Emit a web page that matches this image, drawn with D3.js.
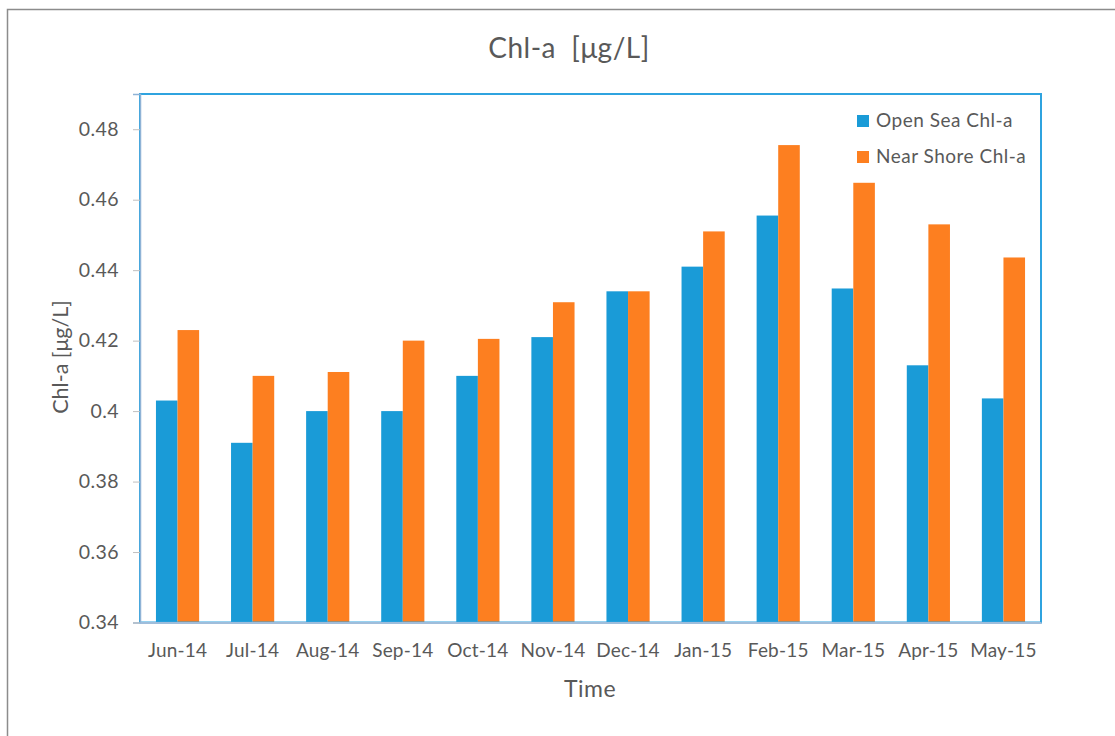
<!DOCTYPE html>
<html>
<head>
<meta charset="utf-8">
<script src="https://cdn.jsdelivr.net/npm/d3@7"></script>
<style>
  html, body { margin: 0; padding: 0; background: #fff; }
  svg { display: block; font-family: Lato, "Open Sans", sans-serif; }
</style>
</head>
<body>
<svg id="chart" width="1115" height="736"></svg>
<script>
const categories = ["Jun-14","Jul-14","Aug-14","Sep-14","Oct-14","Nov-14","Dec-14","Jan-15","Feb-15","Mar-15","Apr-15","May-15"];
const openSea = [0.403, 0.391, 0.400, 0.400, 0.410, 0.421, 0.434, 0.441, 0.4555, 0.4348, 0.413, 0.4036];
const nearShore = [0.423, 0.410, 0.4111, 0.420, 0.4205, 0.4309, 0.434, 0.451, 0.4755, 0.4648, 0.453, 0.4436];
const seriesNames = ["Open Sea Chl-a", "Near Shore Chl-a"];
const yTicks = [0.34, 0.36, 0.38, 0.40, 0.42, 0.44, 0.46, 0.48];
const yTickLabels = ["0.34", "0.36", "0.38", "0.4", "0.42", "0.44", "0.46", "0.48"];
const colors = ["#1a9bd7", "#fd7f20"];

const svg = d3.select("#chart");
const textColor = "#595959";

// outer chart border
svg.append("rect").attr("x", 7.5).attr("y", 9.5).attr("width", 1130).attr("height", 740)
  .attr("fill", "none").attr("stroke", "#8c8c8c").attr("stroke-width", 1.5);

const plot = { left: 140, top: 94, right: 1041, bottom: 622.5 };

const x = d3.scaleBand().domain(categories).range([plot.left, plot.right]).paddingInner(0).paddingOuter(0);
const y = d3.scaleLinear().domain([0.34, 0.49]).range([plot.bottom, plot.top]);
const groupWidth = x.bandwidth() * 0.575;
const x1 = d3.scaleBand().domain([0, 1]).range([0, groupWidth]);

const data = categories.map((c, i) => ({ c, vals: [openSea[i], nearShore[i]] }));

const g = svg.append("g");
const groups = g.selectAll("g.cat").data(data).join("g")
  .attr("transform", d => `translate(${x(d.c) + (x.bandwidth() - groupWidth) / 2},0)`);
groups.selectAll("rect").data(d => d.vals.map((v, k) => ({ v, k }))).join("rect")
  .attr("x", d => x1(d.k))
  .attr("width", x1.bandwidth())
  .attr("y", d => y(d.v))
  .attr("height", d => y(0.34) - y(d.v))
  .attr("fill", d => colors[d.k]);

// plot frame
svg.append("rect")
  .attr("x", plot.left).attr("y", plot.top)
  .attr("width", plot.right - plot.left).attr("height", plot.bottom - plot.top)
  .attr("fill", "none").attr("stroke", "#2fa3df").attr("stroke-width", 2);

const fontFam = "Lato, 'Open Sans', sans-serif";

// y axis
const yAxis = d3.axisLeft(y).tickValues(yTicks).tickFormat((d, i) => yTickLabels[i]).tickSize(7).tickPadding(14);
const ya = svg.append("g").attr("transform", `translate(${plot.left},0)`).call(yAxis);
ya.select(".domain").attr("stroke", "#8fb3d6").attr("stroke-width", 1.5);
ya.selectAll(".tick line").attr("stroke", "#bfbfbf");
ya.selectAll(".tick text").attr("fill", textColor).style("font-size", "19.5px")
  .style("letter-spacing", "0.4px").style("font-family", fontFam);

// x axis
const xAxis = d3.axisBottom(x).tickSize(0).tickPadding(21);
const xa = svg.append("g").attr("transform", `translate(0,${plot.bottom})`).call(xAxis);
xa.select(".domain").attr("stroke", "#9fbddb").attr("stroke-width", 2);
xa.selectAll(".tick text").attr("fill", textColor).style("font-size", "19px")
  .style("letter-spacing", "0.2px").style("font-family", fontFam);

// titles
svg.append("text").attr("x", 569).attr("y", 58).attr("text-anchor", "middle")
  .attr("fill", textColor).style("font-size", "28px").style("white-space", "pre")
  .style("letter-spacing", "0.5px").text("Chl-a  [μg/L]");
svg.append("text").attr("x", 590).attr("y", 697).attr("text-anchor", "middle")
  .attr("fill", textColor).style("font-size", "23px").style("letter-spacing", "0.5px").text("Time");
svg.append("text").attr("transform", "translate(68,357) rotate(-90)").attr("text-anchor", "middle")
  .attr("fill", textColor).style("font-size", "21.5px").text("Chl-a [μg/L]");

// legend
const legend = svg.append("g");
seriesNames.forEach((name, i) => {
  const ly = 121 + i * 36;
  legend.append("rect").attr("x", 857).attr("y", ly - 6).attr("width", 12).attr("height", 12).attr("fill", colors[i]);
  legend.append("text").attr("x", 876).attr("y", ly + 6).attr("fill", textColor)
    .style("font-size", "19px").style("letter-spacing", "0.5px").text(name);
});
</script>
</body>
</html>
